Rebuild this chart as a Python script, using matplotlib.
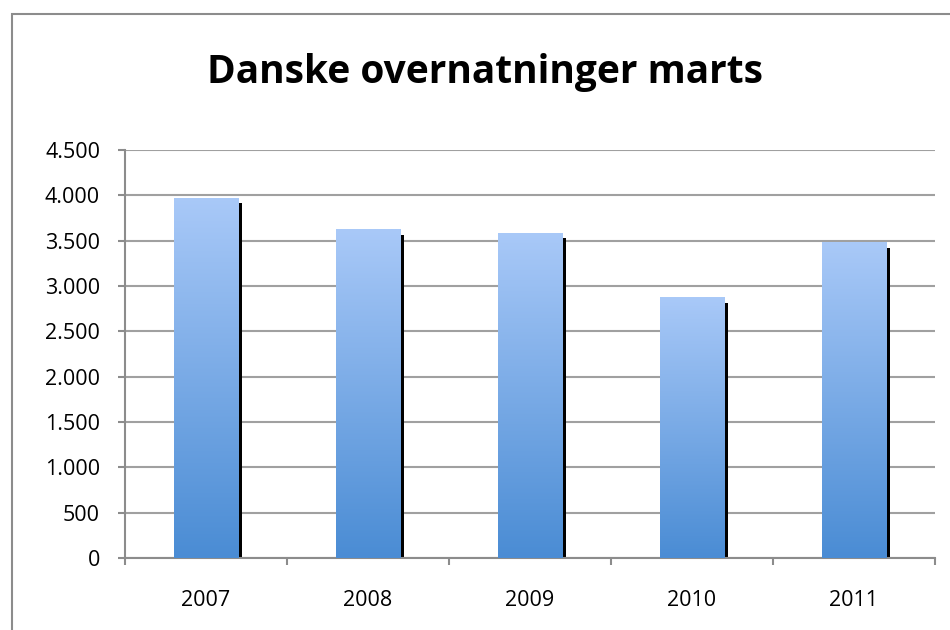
import numpy as np
import matplotlib
matplotlib.use("Agg")
from matplotlib import pyplot as plt
from matplotlib.colors import LinearSegmentedColormap
from matplotlib.patches import Rectangle
from matplotlib.ticker import FuncFormatter

years = ["2007", "2008", "2009", "2010", "2011"]
values = [3975, 3625, 3585, 2875, 3480]
y_ticks = [0, 500, 1000, 1500, 2000, 2500, 3000, 3500, 4000, 4500]

plt.rcParams['font.family'] = ['Open Sans', 'DejaVu Sans']

fig = plt.figure(figsize=(9.5, 6.3), dpi=100)
ax = fig.add_axes([125/950, 1 - 558/630, 810/950, 408/630])

# outer frame, only left and top edges visible
fig.patches.append(Rectangle((12/950, -0.1), 1.2, 1 - 14/630 + 0.1,
                             transform=fig.transFigure, fill=False,
                             edgecolor='#8c8c8c', linewidth=1.5))

cmap = LinearSegmentedColormap.from_list("bar", ["#4a8cd4", "#a9c9f8"])
grad = np.linspace(0, 1, 256).reshape(-1, 1)
x = np.arange(len(years))
width = 0.4

# shadows
ax.bar(x + 0.025, np.array(values) - 60, width, color='black', zorder=2)
bars = ax.bar(x, values, width, color='none', zorder=3)
for b in bars:
    im = ax.imshow(grad, cmap=cmap, origin='lower', aspect='auto',
                   extent=[b.get_x(), b.get_x() + b.get_width(), 0, b.get_height()],
                   zorder=3)
    im.set_clip_path(b)

ax.set_xlim(-0.5, len(years) - 0.5)
ax.set_ylim(0, 4500)
ax.set_yticks(y_ticks)
ax.yaxis.set_major_formatter(FuncFormatter(lambda v, p: "{:,.0f}".format(v).replace(",", ".")))
ax.set_xticks(x)
ax.set_xticklabels(years)
ax.set_xticks(np.arange(len(years) + 1) - 0.5, minor=True)
ax.tick_params(axis='x', which='major', length=0, pad=23, labelsize=15.5)
ax.tick_params(axis='x', which='minor', length=5, width=1.5, color='#8c8c8c', direction='out')
ax.tick_params(axis='y', length=5, width=1.5, color='#8c8c8c', direction='out', labelsize=15.5, pad=13)

ax.grid(axis='y', color='#a0a0a0', linewidth=1.5, zorder=1)
ax.set_axisbelow(True)
for s in ['top', 'right']:
    ax.spines[s].set_visible(False)
for s in ['left', 'bottom']:
    ax.spines[s].set_color('#8c8c8c')
    ax.spines[s].set_linewidth(1.5)

fig.text(485/950, 1 - 73/630, "Danske overnatninger marts", ha='center', va='center',
         fontsize=28, fontweight='bold')

fig.savefig("out.png", dpi=100)
